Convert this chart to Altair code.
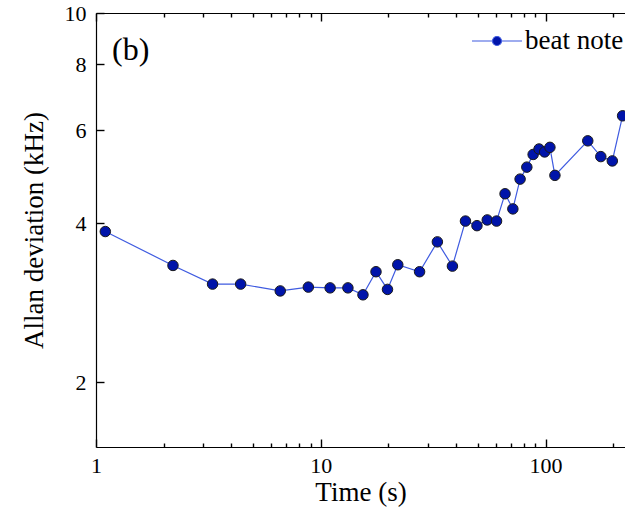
import altair as alt
import pandas as pd

# ---- data ----
times_s = [1.1, 2.2, 3.3, 4.4, 6.6, 8.8, 11.0, 13.2, 15.4, 17.6, 19.8, 22.0,
           27.5, 33.0, 38.5, 44.0, 49.5, 55.0, 60.5, 66.0, 71.5, 77.0, 82.5,
           88.0, 93.5, 99.0, 104.5, 110.0, 154.0, 176.0, 198.0, 220.0]
allan_khz = [3.86, 3.33, 3.07, 3.07, 2.98, 3.03, 3.02, 3.02, 2.93, 3.24, 3.00,
             3.34, 3.24, 3.69, 3.32, 4.04, 3.96, 4.06, 4.04, 4.55, 4.26, 4.85,
             5.11, 5.40, 5.53, 5.46, 5.57, 4.93, 5.73, 5.35, 5.25, 6.39]
series_label = "beat note"

x_label_values = [1, 10, 100]
x_major_ticks = [1, 10, 100]
x_minor_ticks = [2, 3, 4, 5, 6, 7, 8, 9, 20, 30, 40, 50, 60, 70, 80, 90, 200]
y_tick_values = [2, 4, 6, 8, 10]
x_domain = [1, 225.5]
y_domain = [1.51, 10]

df = pd.DataFrame({"time": times_s, "allan": allan_khz,
                   "series": [series_label] * len(times_s)})

# ---- styling ----
W, H = 529, 434
FONT = "Liberation Serif"
LINE_COLOR = "#3F5BE0"
MARK_FILL = "#0014AA"
TICK_W = 1.4

x_scale = alt.Scale(type="log", domain=x_domain, nice=False)
y_scale = alt.Scale(type="log", domain=y_domain, nice=False)

base = alt.Chart(df)


def tick_axis(orient, offset, values, size, color="black", domain=False):
    return alt.Axis(orient=orient, offset=offset, values=values, labels=False,
                    domain=domain, domainColor="black", domainWidth=1.2,
                    title=None, ticks=True, tickSize=size, tickColor=color,
                    tickWidth=TICK_W)


# labelled axes (bottom and left), no ticks
line = base.mark_line(color=LINE_COLOR, strokeWidth=1.2).encode(
    x=alt.X("time:Q", scale=x_scale,
            axis=alt.Axis(orient="bottom", values=x_label_values, ticks=False,
                          format="d", labelPadding=8, labelFlush=False,
                          labelFontSize=22, title="Time (s)", titleFontSize=27,
                          titlePadding=3, domainColor="black", domainWidth=1.2)),
    y=alt.Y("allan:Q", scale=y_scale,
            axis=alt.Axis(orient="left", values=y_tick_values, ticks=False,
                          format="d", labelPadding=10, labelFlush=False,
                          labelFontSize=22, title="Allan deviation (kHz)",
                          titleFontSize=27, titlePadding=16,
                          domainColor="black", domainWidth=1.2)),
)

legend_path = ("M-1,0L-0.18,0M0.18,0L1,0"
               "M-0.18,0A0.18,0.18,0,1,1,0.18,0A0.18,0.18,0,1,1,-0.18,0Z")

# points + inward major ticks on the bottom and left edges
points = base.mark_circle(size=110, stroke="#1a1a1a", strokeWidth=1, opacity=1).encode(
    x=alt.X("time:Q", scale=x_scale, axis=tick_axis("top", -H, x_major_ticks, 8)),
    y=alt.Y("allan:Q", scale=y_scale, axis=tick_axis("right", -W, y_tick_values, 8)),
    fill=alt.Fill("series:N", scale=alt.Scale(range=[MARK_FILL]),
                  legend=alt.Legend(orient="none", legendX=375, legendY=2,
                                    padding=0, title=None,
                                    symbolType=legend_path, symbolSize=2500,
                                    symbolStrokeColor=LINE_COLOR,
                                    symbolStrokeWidth=1.2,
                                    labelFont=FONT, labelFontSize=27,
                                    labelColor="black", labelOffset=2)),
)

# top frame line with inward major ticks
frame_top_major = base.mark_line(opacity=0).encode(
    x=alt.X("time:Q", scale=x_scale,
            axis=tick_axis("bottom", -H, x_major_ticks, 8, domain=True)),
    y=alt.Y("allan:Q", scale=y_scale, axis=None),
)
# inward minor ticks, bottom edge
frame_bottom_minor = base.mark_line(opacity=0).encode(
    x=alt.X("time:Q", scale=x_scale, axis=tick_axis("top", -H, x_minor_ticks, 4)),
    y=alt.Y("allan:Q", scale=y_scale, axis=None),
)
# inward minor ticks, top edge
frame_top_minor = base.mark_line(opacity=0).encode(
    x=alt.X("time:Q", scale=x_scale, axis=tick_axis("bottom", -H, x_minor_ticks, 4)),
    y=alt.Y("allan:Q", scale=y_scale, axis=None),
)

chart = alt.layer(line, points, frame_top_major, frame_bottom_minor,
                  frame_top_minor).resolve_axis(
    x="independent", y="independent"
).properties(
    width=W, height=H,
    autosize=alt.AutoSizeParams(type="none"),
    padding={"left": 96, "top": 13, "right": 0, "bottom": 69},
    title=alt.TitleParams("(b)", anchor="start", frame="group", orient="top",
                          baseline="top", offset=0, dx=16, dy=65,
                          font=FONT, fontSize=32, fontWeight="normal",
                          color="black"),
).configure_view(stroke=None).configure_axis(
    grid=False, labelFont=FONT, titleFont=FONT, labelColor="black",
    titleColor="black", titleFontWeight="normal",
)

chart.save("out.html", embed_options={"renderer": "svg", "actions": False})
